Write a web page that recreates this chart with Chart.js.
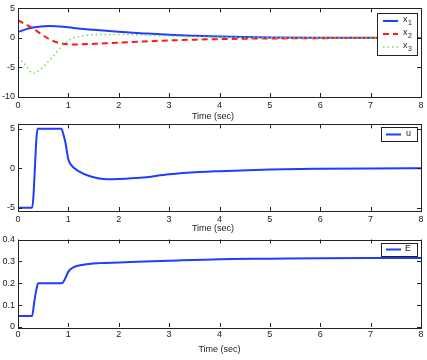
<!DOCTYPE html>
<html>
<head>
<meta charset="utf-8">
<script src="https://cdn.jsdelivr.net/npm/chart.js@4/dist/chart.umd.min.js"></script>
<style>
  body { margin: 0; background: #fff; }
  #wrap { position: relative; width: 427px; height: 360px; background: #fff; }
  #wrap canvas { position: absolute; left: 0; }
</style>
</head>
<body>
<div id="wrap">
  <canvas id="c1" width="427" height="122" style="top:0px"></canvas>
  <canvas id="c2" width="427" height="118" style="top:116px"></canvas>
  <canvas id="c3" width="427" height="130" style="top:230px"></canvas>
</div>
<script>
// estados x1, x2, x3
const tX = [0, 0.15, 0.3, 0.45, 0.6, 0.75, 0.9, 1.0, 1.1, 1.25, 1.5, 1.75, 2, 2.5, 3, 3.5, 4, 4.5, 5, 6, 7, 8];
const x1 = [1.0, 1.45, 1.75, 1.92, 2.0, 1.97, 1.88, 1.8, 1.7, 1.57, 1.38, 1.2, 1.04, 0.77, 0.53, 0.37, 0.24, 0.15, 0.09, 0.03, 0.01, 0];
const x2 = [3.0, 2.3, 1.6, 0.7, -0.1, -0.7, -1.0, -1.07, -1.1, -1.08, -1.0, -0.9, -0.8, -0.6, -0.42, -0.3, -0.2, -0.13, -0.09, -0.04, -0.01, 0];
const x3 = [-3.3, -4.6, -6.0, -5.3, -4.0, -2.6, -1.1, -0.5, 0.0, 0.3, 0.55, 0.6, 0.6, 0.5, 0.32, 0.2, 0.12, 0.07, 0.04, 0.01, 0, 0];

// controle u
const tU = [0, 0.28, 0.39, 0.86, 0.9, 0.94, 1.0, 1.07, 1.2, 1.43, 1.77, 2.0, 2.43, 3.0, 3.6, 4.0, 5.0, 6.0, 7.0, 8.0];
const uVals = [-5, -5, 5, 5, 4.3, 3.3, 1.1, 0.3, -0.35, -1.0, -1.38, -1.35, -1.2, -0.76, -0.47, -0.36, -0.15, -0.06, -0.02, 0];

// E
const tE = [0, 0, 0.28, 0.32, 0.36, 0.4, 0.87, 0.93, 1.0, 1.1, 1.3, 1.62, 2.0, 3.0, 4.0, 5.0, 6.0, 7.0, 8.0];
const eVals = [0, 0.05, 0.05, 0.11, 0.165, 0.2, 0.2, 0.218, 0.253, 0.273, 0.285, 0.292, 0.295, 0.303, 0.31, 0.312, 0.314, 0.315, 0.315];

const xTicks = [0, 1, 2, 3, 4, 5, 6, 7, 8];
const yTicksTop = [-10, -5, 0, 5];
const yTicksMid = [-5, 0, 5];
const yTicksBot = [0, 0.1, 0.2, 0.3, 0.4];

const AZUL = '#1f3cff', VERMELHO = '#ff1a1a', VERDE = '#6fe04f';
const FONTE = '"Liberation Sans", Arial, Helvetica, sans-serif';
const COR_EIXO = '#222';

function pontos(ts, vs) { return ts.map((t, i) => ({ x: t, y: vs[i] })); }

// caixa estilo MATLAB, ticks para dentro, titulo e legenda
const estiloMatlab = {
  id: 'estiloMatlab',
  afterDraw(chart) {
    const o = chart.options.plugins.estiloMatlab;
    const ctx = chart.ctx, a = chart.chartArea;
    const sx = chart.scales.x, sy = chart.scales.y;
    ctx.save();
    ctx.strokeStyle = COR_EIXO;
    ctx.lineWidth = 1;
    ctx.strokeRect(Math.round(a.left) + 0.5, Math.round(a.top) + 0.5, Math.round(a.right - a.left), Math.round(a.bottom - a.top));
    ctx.beginPath();
    xTicks.forEach(v => {
      const px = Math.round(sx.getPixelForValue(v)) + 0.5;
      ctx.moveTo(px, a.bottom); ctx.lineTo(px, a.bottom - 4);
      ctx.moveTo(px, a.top); ctx.lineTo(px, a.top + 4);
    });
    o.yTicks.forEach(v => {
      const py = Math.round(sy.getPixelForValue(v)) + 0.5;
      ctx.moveTo(a.left, py); ctx.lineTo(a.left + 4, py);
      ctx.moveTo(a.right, py); ctx.lineTo(a.right - 4, py);
    });
    ctx.stroke();

    // titulo do eixo x
    ctx.fillStyle = COR_EIXO;
    ctx.font = '9px ' + FONTE;
    ctx.textAlign = 'center';
    ctx.textBaseline = 'middle';
    ctx.fillText('Time (sec)', o.tituloX, o.tituloY);

    // legenda
    const L = o.legenda;
    ctx.fillStyle = '#fff';
    ctx.fillRect(L.x, L.y, L.w, L.h);
    ctx.strokeStyle = COR_EIXO;
    ctx.strokeRect(L.x + 0.5, L.y + 0.5, L.w, L.h);
    chart.data.datasets.forEach((ds, i) => {
      const yy = L.itens[i];
      ctx.strokeStyle = ds.borderColor;
      ctx.lineWidth = ds.borderWidth;
      ctx.setLineDash(ds.borderDash || []);
      ctx.beginPath();
      ctx.moveTo(L.linhaX0, yy); ctx.lineTo(L.linhaX1, yy);
      ctx.stroke();
      ctx.setLineDash([]);
      ctx.fillStyle = COR_EIXO;
      ctx.textAlign = 'left';
      ctx.font = '9px ' + FONTE;
      ctx.fillText(ds.label, L.textoX, yy - 1);
      if (ds.sub) {
        const w = ctx.measureText(ds.label).width;
        ctx.font = '7px ' + FONTE;
        ctx.fillText(ds.sub, L.textoX + w + 0.5, yy + 2.5);
      }
    });
    ctx.restore();
  }
};

function criarGrafico(id, datasets, cfg) {
  return new Chart(document.getElementById(id), {
    type: 'line',
    data: { datasets },
    options: {
      responsive: false,
      animation: false,
      layout: { padding: { left: 0, right: 6, top: cfg.topo, bottom: 0 } },
      elements: { point: { radius: 0 }, line: { cubicInterpolationMode: 'monotone' } },
      scales: {
        x: {
          type: 'linear', min: 0, max: 8,
          grid: { display: false, drawTicks: false, tickLength: 0 }, border: { display: false },
          ticks: { stepSize: 1, color: COR_EIXO, font: { size: 9, family: FONTE }, padding: cfg.padX, maxRotation: 0 },
          afterBuildTicks: s => { s.ticks = xTicks.map(v => ({ value: v })); },
          afterFit: s => { s.height = cfg.alturaX; }
        },
        y: {
          type: 'linear', min: cfg.yMin, max: cfg.yMax,
          grid: { display: false, drawTicks: false, tickLength: 0 }, border: { display: false },
          ticks: { color: COR_EIXO, font: { size: 9, family: FONTE }, padding: 3 },
          afterBuildTicks: s => { s.ticks = cfg.yTicks.map(v => ({ value: v })); },
          afterFit: s => { s.width = 18; }
        }
      },
      plugins: {
        legend: { display: false },
        tooltip: { enabled: false },
        estiloMatlab: { yTicks: cfg.yTicks, tituloX: cfg.tituloX, tituloY: cfg.tituloY, legenda: cfg.legenda }
      }
    },
    plugins: [estiloMatlab]
  });
}

criarGrafico('c1', [
  { label: 'x', sub: '1', data: pontos(tX, x1), borderColor: AZUL, borderWidth: 2, order: 3 },
  { label: 'x', sub: '2', data: pontos(tX, x2), borderColor: VERMELHO, borderWidth: 2, borderDash: [6, 4], order: 2 },
  { label: 'x', sub: '3', data: pontos(tX, x3), borderColor: VERDE, borderWidth: 1.5, borderDash: [1.5, 3], order: 1 }
], {
  topo: 8, alturaX: 25, padX: 3, yMin: -10, yMax: 5, yTicks: yTicksTop,
  tituloX: 213, tituloY: 116.5,
  legenda: { x: 377, y: 13, w: 40, h: 42, itens: [21, 34, 47], linhaX0: 383, linhaX1: 398, textoX: 403 }
});

criarGrafico('c2', [
  { label: 'u', data: pontos(tU, uVals), borderColor: AZUL, borderWidth: 2 }
], {
  topo: 8, alturaX: 23, padX: 3, yMin: -5.4, yMax: 5.55, yTicks: yTicksMid,
  tituloX: 213, tituloY: 113,
  legenda: { x: 381, y: 11, w: 36, h: 14, itens: [18.5], linhaX0: 386, linhaX1: 401, textoX: 406 }
});

criarGrafico('c3', [
  { label: 'E', data: pontos(tE, eVals), borderColor: AZUL, borderWidth: 2 }
], {
  topo: 9.5, alturaX: 33, padX: 2, yMin: 0, yMax: 0.4, yTicks: yTicksBot,
  tituloX: 219.5, tituloY: 120,
  legenda: { x: 381, y: 13, w: 36, h: 13, itens: [19.5], linhaX0: 386, linhaX1: 401, textoX: 405 }
});
</script>
</body>
</html>
